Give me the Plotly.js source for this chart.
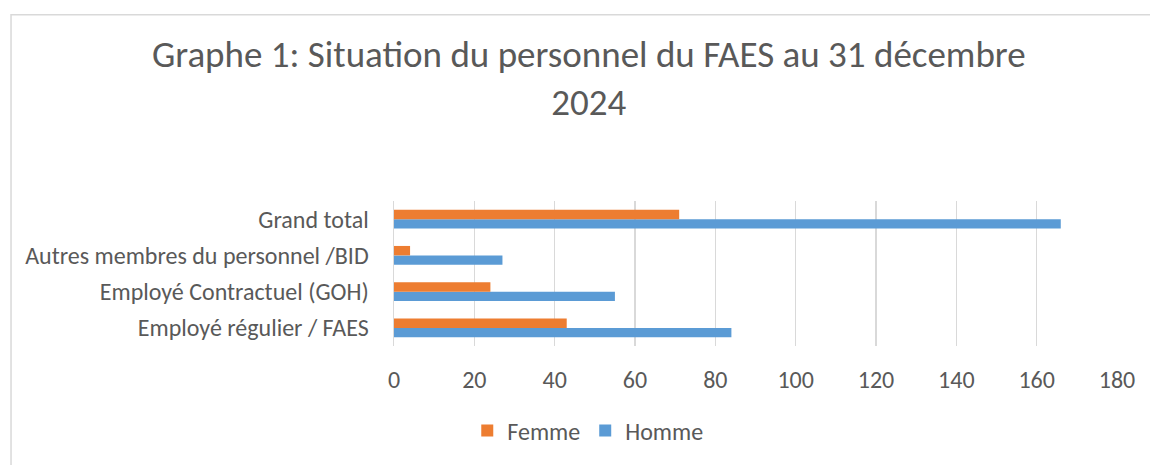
<!DOCTYPE html>
<html>
<head>
<meta charset="utf-8">
<script src="https://cdn.plot.ly/plotly-3.0.1.min.js"></script>
<style>
html,body{margin:0;padding:0;background:#fff;}
#chart{width:1150px;height:465px;}
</style>
</head>
<body>
<div id="chart"></div>
<script>
// Categories listed bottom-to-top (Plotly draws the first category at the bottom)
var categories = ["Employé régulier / FAES", "Employé Contractuel (GOH)", "Autres membres du personnel /BID", "Grand total"];
var femme = [43, 24, 4, 71];
var homme = [84, 55, 27, 166];
var xTicks = [0, 20, 40, 60, 80, 100, 120, 140, 160, 180];

var FONT = "Carlito, Calibri, Lato, sans-serif";
var TXT = "#595959";

var traces = [
  {type: "bar", orientation: "h", name: "Homme", y: categories, x: homme,
   marker: {color: "#5B9BD5"}, legendrank: 2, hoverinfo: "x+name"},
  {type: "bar", orientation: "h", name: "Femme", y: categories, x: femme,
   marker: {color: "#ED7D31"}, legendrank: 1, hoverinfo: "x+name"}
];

var layout = {
  width: 1150, height: 465,
  margin: {l: 394, r: 33, t: 201, b: 116},
  paper_bgcolor: "#fff", plot_bgcolor: "#fff",
  font: {family: FONT, color: TXT, size: 24},
  title: {text: "Graphe 1: Situation du personnel du FAES au 31 décembre<br>2024",
          font: {family: FONT, size: 37, color: TXT, weight: 300},
          x: 0.512, xanchor: "center", y: 0.856, yanchor: "middle"},
  barmode: "group", bargap: 0.48, bargroupgap: 0,
  xaxis: {range: [0, 180], tickvals: xTicks, ticktext: xTicks.map(String),
          showgrid: true, gridcolor: "#D9D9D9", gridwidth: 1.5, zeroline: false,
          showline: false, ticks: "", ticklabelstandoff: 17,
          tickfont: {family: FONT, size: 24, color: TXT}, fixedrange: true},
  yaxis: {type: "category", showgrid: false, zeroline: false, showline: true,
          linecolor: "#D9D9D9", linewidth: 1.5, ticks: "", ticklabelstandoff: 19,
          tickfont: {family: FONT, size: 24, color: TXT}, fixedrange: true},
  showlegend: true,
  legend: {orientation: "h", x: 0.268, xanchor: "center", y: -0.585, yanchor: "middle",
           font: {family: FONT, size: 24, color: TXT}, traceorder: "normal",
           itemwidth: 30, itemclick: false, itemdoubleclick: false},
  shapes: [{type: "rect", xref: "paper", yref: "paper",
            x0: -0.5297, x1: 1.2, y0: -1.5, y1: 2.284,
            line: {color: "#D9D9D9", width: 1.5}, fillcolor: "rgba(0,0,0,0)", layer: "below"}]
};

Plotly.newPlot("chart", traces, layout, {displayModeBar: false, staticPlot: true});
</script>
</body>
</html>
